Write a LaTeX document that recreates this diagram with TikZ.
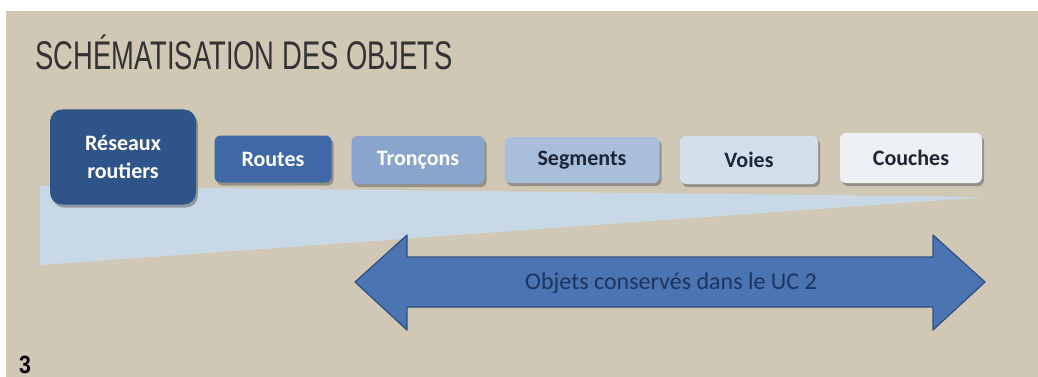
\documentclass[tikz,border=0pt]{standalone}
\usepackage{fontspec}
\usepackage{xcolor}
\usepackage{tikz}
\usetikzlibrary{shadows}
\setmainfont{Carlito}
\newfontfamily\titlefont[FakeStretch=0.685]{Liberation Sans}
\newfontfamily\numfont[FakeStretch=0.85]{Liberation Sans}
\definecolor{BGB}{RGB}{208,200,181}
\definecolor{OBC1}{RGB}{47,84,138}
\definecolor{OBC2}{RGB}{62,104,166}
\definecolor{OBC3}{RGB}{138,165,203}
\definecolor{OBC4}{RGB}{168,190,218}
\definecolor{OBC5}{RGB}{212,223,236}
\definecolor{OBC6}{RGB}{237,240,244}
\definecolor{WDG}{RGB}{200,216,230}
\definecolor{ARF}{RGB}{74,116,178}
\definecolor{ARD}{RGB}{48,78,128}
\definecolor{TXD}{RGB}{28,38,56}
\definecolor{TXA}{RGB}{30,52,96}
\tikzset{
    OB/.style ={rectangle,rounded corners=6pt,fill=#1,inner sep=0pt,
        font=\fontsize{22}{28}\selectfont\bfseries,align=center,
        drop shadow={shadow xshift=2pt,shadow yshift=-3pt,opacity=.45,fill=black!70}},
    OBW/.style ={OB=#1,text=white},
    OBD/.style ={OB=#1,text=TXD},
    AR/.style ={fill=ARF,draw=ARD,line width=1.2pt,line join=round}
}
\begin{document}
\begin{tikzpicture}[x=1pt,y=-1pt]
            \useasboundingbox (0,0) rectangle (1038,377);
            % fond
            \fill[white] (0,0) rectangle (1038,377);
            \fill[BGB] (6,11) rectangle (1038,377);
            \node[anchor=base west,inner sep=0pt,text=black!80,font=\fontsize{40}{40}\titlefont] (titre) at (35,70) {SCHÉMATISATION DES OBJETS};
            % triangle
            \fill[WDG] (40,186) -- (985,197) -- (40,265) -- cycle;
            % objets
            \node[OBW=OBC1,minimum width=146pt,minimum height=95pt,rounded corners=12pt] (res) at (123,157) {Réseaux\\routiers};
            \node[OBW=OBC2,minimum width=117pt,minimum height=47pt] (rou) at (273,159) {Routes};
            \node[OBW=OBC3,minimum width=133pt,minimum height=48pt] (tro) at (418,160) {Tronçons};
            \node[OBD=OBC4,minimum width=155pt,minimum height=46pt] (seg) at (582,160) {Segments};
            \node[OBD=OBC5,minimum width=138pt,minimum height=48pt] (voi) at (749,160) {Voies};
            \node[OBD=OBC6,minimum width=142pt,minimum height=50pt] (cou) at (911,158) {Couches};
            % double fleche
            \draw[AR] (355,282) -- (407,235) -- (407,257) -- (933,257) -- (933,235)
                -- (985,282) -- (933,330) -- (933,307) -- (407,307) -- (407,330) -- cycle;
            \node[text=TXA,font=\fontsize{24}{24}\selectfont] (uc) at (671,283) {Objets conservés dans le UC 2};
            \node[anchor=base west,inner sep=0pt,font=\fontsize{25}{25}\numfont\bfseries] (num) at (19,373) {3};
\end{tikzpicture}
\end{document}
